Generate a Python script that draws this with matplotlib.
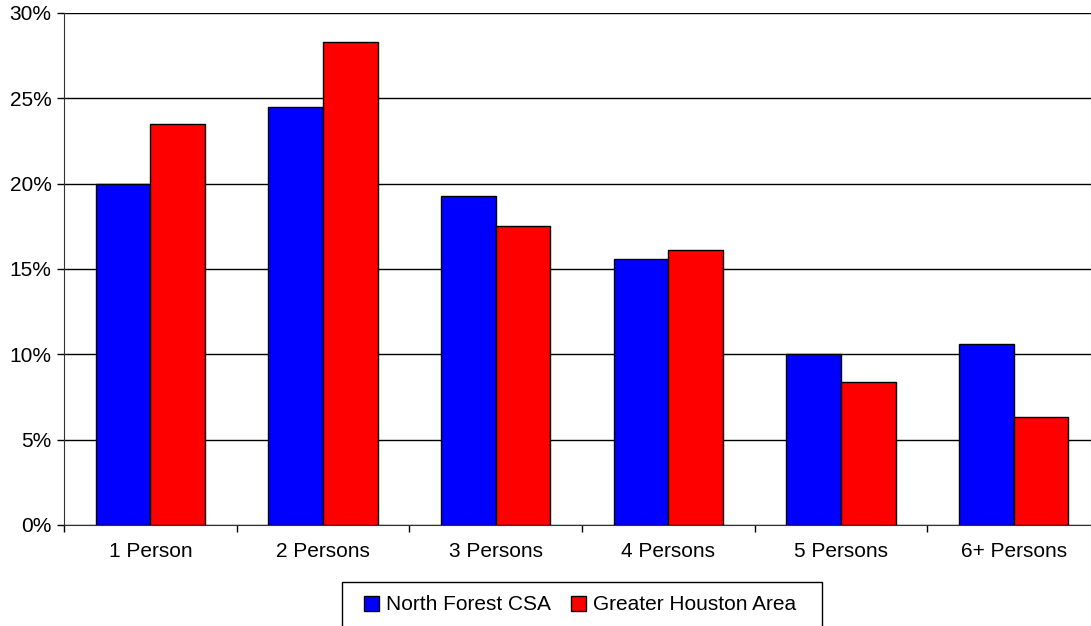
import matplotlib.pyplot as plt
import matplotlib.patches as patches
import numpy as np

plt.rcParams['font.family'] = ['Liberation Sans', 'DejaVu Sans']

categories = ["1 Person", "2 Persons", "3 Persons", "4 Persons", "5 Persons", "6+ Persons"]
north_forest = [20.0, 24.5, 19.3, 15.6, 10.0, 10.6]
greater_houston = [23.5, 28.3, 17.5, 16.1, 8.4, 6.3]
y_ticks = [0, 5, 10, 15, 20, 25, 30]

color_blue = '#0000ff'
color_red = '#ff0000'

fig = plt.figure(figsize=(10.91, 6.26), dpi=100)
# plot area runs a bit past the right edge of the picture
ax = fig.add_axes([64/1091, 1 - 525/626, 1036/1091, (525 - 13)/626])

x = np.arange(len(categories))
w = 0.316
ax.bar(x - w/2, north_forest, w, color=color_blue, edgecolor='black', lw=1, zorder=3,
       label="North Forest CSA")
ax.bar(x + w/2, greater_houston, w, color=color_red, edgecolor='black', lw=1, zorder=3,
       label="Greater Houston Area")

ax.set_xlim(-0.5, len(categories) - 0.5)
ax.set_ylim(0, 30)
ax.set_yticks(y_ticks)
ax.set_yticklabels([f"{v}%" for v in y_ticks])
ax.yaxis.grid(True, color='black', lw=1)
ax.set_axisbelow(True)

ax.set_xticks(x)
ax.set_xticklabels(categories)
ax.set_xticks(np.arange(-0.5, len(categories)), minor=True)
ax.tick_params(axis='x', which='major', length=0, pad=12.5, labelsize=15)
ax.tick_params(axis='x', which='minor', length=5, width=1, direction='out')
ax.tick_params(axis='y', length=5, width=1, direction='out', pad=4, labelsize=15)

for s in ['top', 'right']:
    ax.spines[s].set_visible(False)
ax.spines['left'].set_color('#333333')
ax.spines['bottom'].set_color('#333333')

# legend box, cut off by the bottom edge like the original
box = patches.Rectangle((342/1091, -0.05), (822 - 342)/1091, 0.05 + (626 - 582)/626,
                        transform=fig.transFigure, fill=False, ec='black', lw=1)
fig.patches.append(box)
fig.legend(loc='center', bbox_to_anchor=(580/1091, 1 - 605/626), ncol=2, frameon=False,
           fontsize=15, handlelength=0.72, handleheight=0.72, handletextpad=0.35,
           columnspacing=0.96)

plt.savefig("out.png", dpi=100)
plt.close()
